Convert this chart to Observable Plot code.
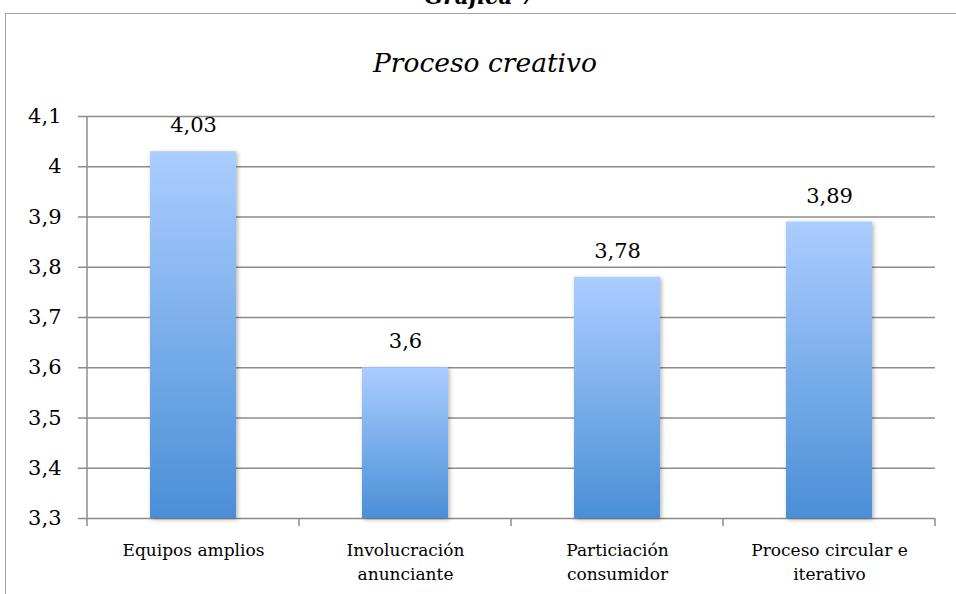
<!DOCTYPE html>
<html><head><meta charset="utf-8">
<script src="https://cdn.jsdelivr.net/npm/d3@7"></script>
<script src="https://cdn.jsdelivr.net/npm/@observablehq/plot@0.6"></script>
<style>
body{margin:0;background:#fff;}
#chart{position:relative;width:956px;height:594px;overflow:hidden;background:#fff;}
#border{position:absolute;left:5px;top:13px;width:1200px;height:1200px;border:1.5px solid #a3a3a3;box-sizing:border-box;}
#chart svg{position:absolute;left:0;top:0;}
</style>
</head><body><div id="chart"><div id="border"></div></div>
<script>
const categories = ["Equipos amplios", "Involucración\nanunciante", "Particiación\nconsumidor", "Proceso circular e\niterativo"];
const values = [4.03, 3.6, 3.78, 3.89];
const yTicks = [3.3, 3.4, 3.5, 3.6, 3.7, 3.8, 3.9, 4.0, 4.1];
const chartTitle = "Proceso creativo";
const figureTitle = "Gráfica 7";

const data = categories.map((c, i) => ({category: c, value: values[i]}));
const fmt = d => String(+d.toFixed(2)).replace(".", ",");
const yMin = yTicks[0], yMax = yTicks[yTicks.length - 1];
const font = "'DejaVu Serif', serif";
const gridColor = "#8c8c8c";

const boundaryTicks = (index, scales, values, dims) => {
  const x = scales.x, y = scales.y;
  const step = x.step(), bw = x.bandwidth();
  const off = (step - bw) / 2;
  const g = d3.create("svg:g").attr("stroke", gridColor).attr("stroke-width", 1.5);
  const xs = categories.map(c => x(c) - off);
  xs.push(x(categories[categories.length - 1]) + bw + off);
  const y0 = y(yMin), y1 = y(yMax);
  g.append("line").attr("x1", xs[0]).attr("x2", xs[0]).attr("y1", y1).attr("y2", y0);
  for (const xb of xs) g.append("line").attr("x1", xb).attr("x2", xb).attr("y1", y0).attr("y2", y0 + 8);
  return g.node();
};

const svg = Plot.plot({
  width: 956,
  height: 594,
  marginLeft: 87,
  marginRight: 21,
  marginTop: 116,
  marginBottom: 76,
  style: {fontFamily: font, background: "transparent", color: "#000", overflow: "visible"},
  x: {domain: categories, paddingInner: 0.594, paddingOuter: 0.297, label: null},
  y: {domain: [yMin, yMax], label: null},
  marks: [
    Plot.gridY(yTicks, {stroke: gridColor, strokeOpacity: 1, strokeWidth: 1.5}),
    Plot.axisY({ticks: yTicks, tickFormat: fmt, tickSize: 9, tickPadding: 17, fontSize: 21, stroke: gridColor, strokeWidth: 1.5, label: null}),
    Plot.axisX({tickSize: 0, tickPadding: 21, fontSize: 17, lineHeight: 1.4, label: null}),
    boundaryTicks,
    Plot.barY(data, {x: "category", y1: () => yMin, y2: "value", fill: "url(#barGrad)"}),
    Plot.text(data, {x: "category", y: "value", text: d => fmt(d.value), dy: -26, fontSize: 21, fill: "#000"})
  ]
});

const s = d3.select(svg);
const defs = s.insert("defs", ":first-child");
const grad = defs.append("linearGradient").attr("id", "barGrad").attr("x1", 0).attr("y1", 0).attr("x2", 0).attr("y2", 1);
grad.append("stop").attr("offset", "0%").attr("stop-color", "#abcdff");
grad.append("stop").attr("offset", "100%").attr("stop-color", "#4a8fd7");
const filt = defs.append("filter").attr("id", "shadow").attr("x", "-20%").attr("y", "-20%").attr("width", "140%").attr("height", "140%");
filt.append("feDropShadow").attr("dx", 1.5).attr("dy", 1.5).attr("stdDeviation", 2).attr("flood-color", "#000").attr("flood-opacity", 0.3);
s.selectAll("g[aria-label='bar'] rect").attr("filter", "url(#shadow)");

s.append("text").attr("x", 480).attr("y", 4).attr("text-anchor", "middle")
  .attr("font-family", font).attr("font-size", 22).attr("font-weight", "bold").attr("font-style", "italic")
  .text(figureTitle);
s.append("text").attr("x", 485).attr("y", 72).attr("text-anchor", "middle")
  .attr("font-family", font).attr("font-size", 26.5).attr("font-style", "italic")
  .text(chartTitle);

document.getElementById("chart").appendChild(svg);
</script>
</body></html>
